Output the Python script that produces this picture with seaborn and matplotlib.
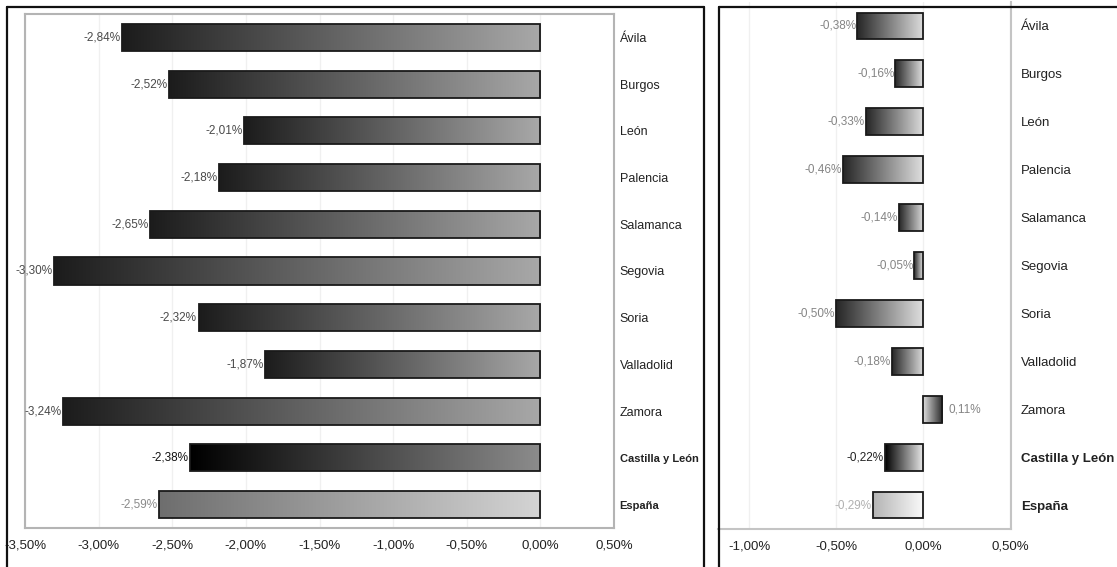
import numpy as np
import pandas as pd
import matplotlib
matplotlib.use("Agg")
import matplotlib.pyplot as plt
import seaborn as sns
from matplotlib.colors import LinearSegmentedColormap
from matplotlib.lines import Line2D

categories = ['Ávila', 'Burgos', 'León', 'Palencia', 'Salamanca', 'Segovia',
              'Soria', 'Valladolid', 'Zamora', 'Castilla y León', 'España']
left_values = [-2.84, -2.52, -2.01, -2.18, -2.65, -3.30, -2.32, -1.87, -3.24, -2.38, -2.59]
right_values = [-0.38, -0.16, -0.33, -0.46, -0.14, -0.05, -0.50, -0.18, 0.11, -0.22, -0.29]
left_ticks = [-3.5, -3.0, -2.5, -2.0, -1.5, -1.0, -0.5, 0.0, 0.5]
right_ticks = [-1.0, -0.5, 0.0, 0.5]

sns.set_theme(style="white")
plt.rcParams['font.family'] = ['Liberation Sans', 'DejaVu Sans']

W, H = 1117, 567
fig = plt.figure(figsize=(W / 100, H / 100), dpi=100)
fig.patch.set_facecolor('white')


def px_axes(x0, y0, x1, y1):
    return fig.add_axes([x0 / W, 1 - y1 / H, (x1 - x0) / W, (y1 - y0) / H])


def fmt(v):
    return f"{v:.2f}%".replace('.', ',')


def draw_panel(ax, values, ticks, xlim, width, grads, lab_colors, pad, lab_size, bold_size):
    df = pd.DataFrame({'cat': categories, 'val': values})
    sns.barplot(data=df, x='val', y='cat', orient='h', color='white', width=width,
                edgecolor='#1a1a1a', linewidth=1.3, ax=ax, zorder=3)
    grad = np.linspace(0, 1, 256).reshape(1, -1)
    span = xlim[1] - xlim[0]
    for i, p in enumerate(ax.patches):
        x0, y0, w, h = p.get_x(), p.get_y(), p.get_width(), p.get_height()
        xa, xb = min(x0, x0 + w), max(x0, x0 + w)
        dark, light = grads[i]
        cmap = LinearSegmentedColormap.from_list('g', [dark, light])
        g = grad if values[i] < 0 else grad[:, ::-1]
        im = ax.imshow(g, cmap=cmap, extent=[xa, xb, y0 + h, y0], aspect='auto',
                       interpolation='bilinear', zorder=2)
        im.set_clip_path(p)
        p.set_facecolor('none')
        v = values[i]
        if v < 0:
            ax.text(xa - 0.003 * span, y0 + h / 2, fmt(v), ha='right', va='center',
                    fontsize=8.5, color=lab_colors[i], zorder=4, clip_on=False)
        else:
            ax.text(xb + 0.02 * span, y0 + h / 2, fmt(v), ha='left', va='center',
                    fontsize=8.5, color=lab_colors[i], zorder=4, clip_on=False)
    ax.set_xlim(*xlim)
    ax.set_ylim(len(categories) - 0.5, -0.5)
    ax.set_xticks(ticks)
    ax.set_xticklabels([fmt(t) for t in ticks], fontsize=9.5, color='#222222')
    ax.set_xlabel('')
    ax.set_ylabel('')
    ax.yaxis.tick_right()
    ax.set_yticks(range(len(categories)))
    ax.set_yticklabels(categories, fontsize=lab_size, color='#222222')
    for t in ax.get_yticklabels()[-2:]:
        t.set_fontweight('bold')
        t.set_fontsize(bold_size)
    ax.tick_params(axis='both', length=0)
    ax.tick_params(axis='y', pad=pad)
    ax.tick_params(axis='x', pad=8)
    for x in ticks:
        ax.axvline(x, color='#f0f0f0', lw=1, zorder=0)


n = len(categories)

# Left panel
axL = px_axes(25, 14, 614, 528)
gL = [('#1c1c1c', '#a8a8a8')] * (n - 2) + [('#000000', '#8c8c8c'), ('#6e6e6e', '#d4d4d4')]
cL = ['#4a4a4a'] * (n - 2) + ['#111111', '#8a8a8a']
draw_panel(axL, left_values, left_ticks, (-3.5, 0.5), 0.58, gL, cL, 4, 9, 8)
for s in axL.spines.values():
    s.set_color('#b4b4b4')
    s.set_linewidth(1.5)

# Right panel
axR = px_axes(718, 2, 1011, 529)
gR = [('#262626', '#dedede')] * (n - 2) + [('#000000', '#ececec'), ('#b4b4b4', '#fafafa')]
cR = ['#858585'] * (n - 2) + ['#222222', '#b0b0b0']
draw_panel(axR, right_values, right_ticks, (-1.18, 0.505), 0.56, gR, cR, 7, 9.5, 9.5)
axR.spines['top'].set_visible(False)
axR.spines['left'].set_visible(False)
for k in ['right', 'bottom']:
    axR.spines[k].set_color('#c4c4c4')
    axR.spines[k].set_linewidth(1.5)
axR.set_facecolor('none')


# outer frames (figure pixel coordinates)
def fline(xs, ys):
    fig.add_artist(Line2D([x / W for x in xs], [1 - y / H for y in ys],
                          color='#111111', lw=1.6, transform=fig.transFigure))


fline([6.5, 6.5], [7, 570])
fline([6.5, 703.5], [7, 7])
fline([703.5, 703.5], [7, 570])
fline([718.5, 718.5], [7, 570])
fline([718.5, 1120], [7, 7])

fig.savefig('out.png', dpi=100, facecolor='white')
